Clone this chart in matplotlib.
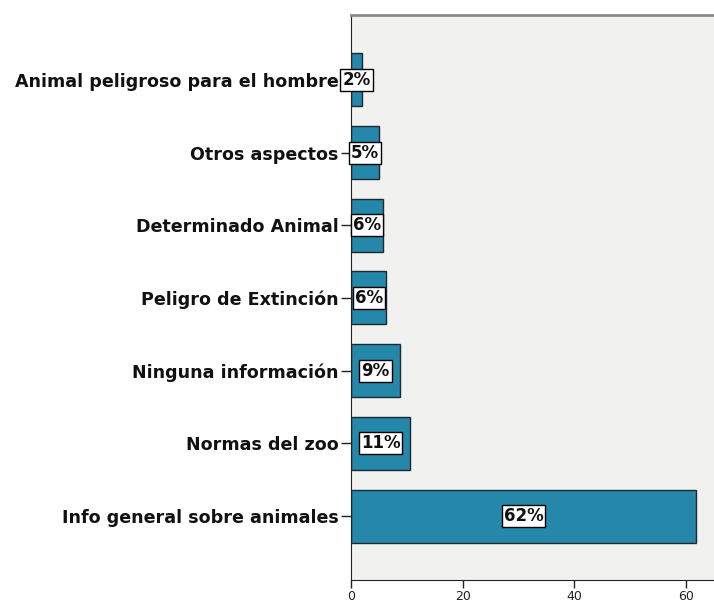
import matplotlib
matplotlib.use("Agg")
import matplotlib.pyplot as plt

categories = ["Info general sobre animales", "Normas del zoo", "Ninguna información",
              "Peligro de Extinción", "Determinado Animal", "Otros aspectos",
              "Animal peligroso para el hombre"]
values = [61.8, 10.6, 8.8, 6.3, 5.7, 5.0, 2.0]
labels = ["62%", "11%", "9%", "6%", "6%", "5%", "2%"]
xticks = [0, 20, 40, 60]

fig = plt.figure(figsize=(7.14, 6.03), dpi=100)
ax = fig.add_axes([0.4916, 0.038, 0.5084, 0.937])
ax.set_facecolor("#f1f1f0")
ypos = list(range(len(categories)))
ax.barh(ypos, values, height=0.73, color="#2587aa", edgecolor="#1f2a30", linewidth=1.0)
for y, v, t in zip(ypos, values, labels):
    ax.text(v / 2, y, t, ha="center", va="center", fontsize=12, fontweight="bold",
            color="#111111",
            bbox=dict(boxstyle="square,pad=0.12", facecolor="white", edgecolor="black", linewidth=1))
ax.set_yticks(ypos)
ax.set_yticklabels(categories, fontsize=12.6, fontweight="bold", color="#111111")
ax.set_xticks(xticks)
ax.set_xticklabels([str(x) for x in xticks], fontsize=9, color="#222222")
ax.set_xlim(0, 65)
ax.set_ylim(-0.88, 6.89)
ax.spines["right"].set_visible(False)
ax.spines["top"].set_color("#8a8a8a")
ax.spines["top"].set_linewidth(2)
ax.spines["left"].set_color("#222222")
ax.spines["bottom"].set_color("#222222")
ax.tick_params(axis="y", length=7, width=1, color="#222222", pad=2)
ax.tick_params(axis="x", length=6, width=1, color="#222222", pad=1)
fig.savefig("out.png", dpi=100)
